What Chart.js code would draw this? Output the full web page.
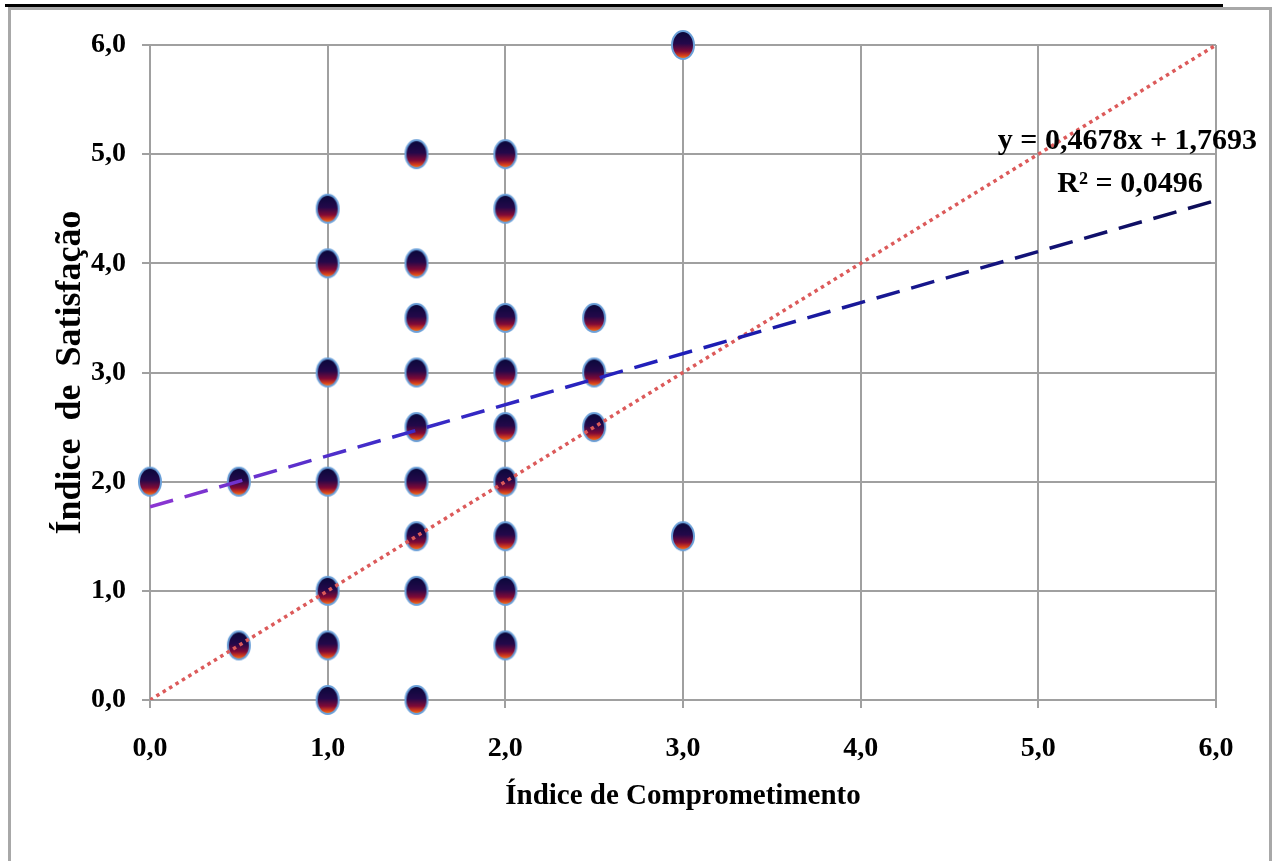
<!DOCTYPE html>
<html>
<head>
<meta charset="utf-8">
<script src="https://cdn.jsdelivr.net/npm/chart.js@4/dist/chart.umd.min.js"></script>
<style>
  body { margin: 0; background: #fff; overflow: hidden; }
  #topline { position: absolute; left: 5px; top: 4px; width: 1218px; height: 3px; background: #000; }
  #frame { position: absolute; left: 8px; top: 7px; width: 1258px; height: 900px; border: 3px solid #a8a8a8; }
  #chart { position: absolute; left: 0; top: 0; }
</style>
</head>
<body>
<div id="topline"></div>
<div id="frame"></div>
<canvas id="chart" width="1273" height="861"></canvas>
<script>
// Índice de Comprometimento (x) / Índice de Satisfação (y)
const comprometimento = [
  0, 0.5, 0.5,
  1, 1, 1, 1, 1, 1, 1,
  1.5, 1.5, 1.5, 1.5, 1.5, 1.5, 1.5, 1.5, 1.5,
  2, 2, 2, 2, 2, 2, 2, 2, 2,
  2.5, 2.5, 2.5,
  3, 3,
];
const satisfacao = [
  2, 2, 0.5,
  4.5, 4, 3, 2, 1, 0.5, 0,
  5, 4, 3.5, 3, 2.5, 2, 1.5, 1, 0,
  5, 4.5, 3.5, 3, 2.5, 2, 1.5, 1, 0.5,
  3.5, 3, 2.5,
  6, 1.5,
];

// linha de tendência y = 0,4678x + 1,7693
const trendX = [0, 6];
const trendY = [1.7693, 4.5761];
// linha y = x
const refX = [0, 6];
const refY = [0, 6];

const tickValues = [0, 1, 2, 3, 4, 5, 6];
const equation = "y = 0,4678x + 1,7693";
const rSquared = "R² = 0,0496";

const serif = '"Liberation Serif", "Times New Roman", serif';
const gridColor = "#a0a0a0";

function toPoints(xs, ys) {
  return xs.map((x, i) => ({ x: x, y: ys[i] }));
}

function fmt(v) {
  return Number(v).toFixed(1).replace(".", ",");
}

// marcador elíptico com degradê
function makeMarker() {
  const c = document.createElement("canvas");
  c.width = 28;
  c.height = 34;
  const g = c.getContext("2d");
  const grad = g.createLinearGradient(0, 3, 0, 31);
  grad.addColorStop(0, "#08083a");
  grad.addColorStop(0.45, "#24084a");
  grad.addColorStop(0.72, "#820a36");
  grad.addColorStop(0.88, "#d8401a");
  grad.addColorStop(1, "#f08a20");
  g.beginPath();
  g.ellipse(14, 17, 11, 14, 0, 0, Math.PI * 2);
  g.fillStyle = grad;
  g.fill();
  g.lineWidth = 2;
  g.strokeStyle = "#6a9fd8";
  g.stroke();
  return c;
}

const trendGradient = function (ctx) {
  const area = ctx.chart.chartArea;
  if (!area) return "#1f1fb0";
  const g = ctx.chart.ctx.createLinearGradient(area.left, 0, area.right, 0);
  g.addColorStop(0, "#8d36d2");
  g.addColorStop(0.22, "#3d2cc8");
  g.addColorStop(0.5, "#1e1eb8");
  g.addColorStop(1, "#0c0c55");
  return g;
};

const equationLabel = {
  id: "equationLabel",
  afterDatasetsDraw(chart) {
    const ctx = chart.ctx;
    const area = chart.chartArea;
    ctx.save();
    ctx.fillStyle = "#000";
    ctx.font = "bold 30px " + serif;
    ctx.textBaseline = "middle";
    ctx.textAlign = "right";
    ctx.fillText(equation, area.right + 41, area.top + 96);
    ctx.textAlign = "center";
    ctx.fillText(rSquared, area.right - 86, area.top + 139);
    ctx.restore();
  },
};

const axisTicks = {
  color: "#000",
  font: { family: serif, size: 28, weight: "bold" },
  stepSize: 1,
  callback: (v) => fmt(v),
};

new Chart(document.getElementById("chart"), {
  data: {
    datasets: [
      {
        type: "line",
        data: toPoints(refX, refY),
        borderColor: "#dc5a5a",
        borderWidth: 3.5,
        borderDash: [3.5, 4],
        pointRadius: 0,
        fill: false,
        order: 1,
      },
      {
        type: "line",
        data: toPoints(trendX, trendY),
        borderColor: trendGradient,
        borderWidth: 3.5,
        borderDash: [24, 12],
        pointRadius: 0,
        fill: false,
        order: 0,
      },
      {
        type: "scatter",
        data: toPoints(comprometimento, satisfacao),
        pointStyle: makeMarker(),
        pointRadius: 13,
        clip: false,
        order: 2,
      },
    ],
  },
  options: {
    responsive: false,
    devicePixelRatio: 1,
    animation: false,
    layout: { padding: { left: 45, top: 45, right: 57, bottom: 43 } },
    plugins: { legend: { display: false }, tooltip: { enabled: false } },
    scales: {
      x: {
        type: "linear",
        min: 0,
        max: 6,
        afterBuildTicks: (s) => { s.ticks = tickValues.map((v) => ({ value: v })); },
        ticks: Object.assign({}, axisTicks, { padding: 24, maxRotation: 0 }),
        grid: { color: gridColor, lineWidth: 2, tickLength: 8 },
        border: { color: gridColor, width: 2 },
        title: {
          display: true,
          text: "Índice de Comprometimento",
          color: "#000",
          font: { family: serif, size: 29, weight: "bold" },
          padding: 4,
        },
        afterFit: (s) => { s.height = 118; },
      },
      y: {
        type: "linear",
        min: 0,
        max: 6,
        afterBuildTicks: (s) => { s.ticks = tickValues.map((v) => ({ value: v })); },
        ticks: Object.assign({}, axisTicks, { padding: 16 }),
        grid: { color: gridColor, lineWidth: 2, tickLength: 8 },
        border: { color: gridColor, width: 2 },
        title: {
          display: true,
          text: "Índice  de  Satisfação",
          color: "#000",
          font: { family: serif, size: 36, weight: "bold" },
          padding: 4,
        },
        afterFit: (s) => { s.width = 105; },
      },
    },
  },
  plugins: [equationLabel],
});
</script>
</body>
</html>
